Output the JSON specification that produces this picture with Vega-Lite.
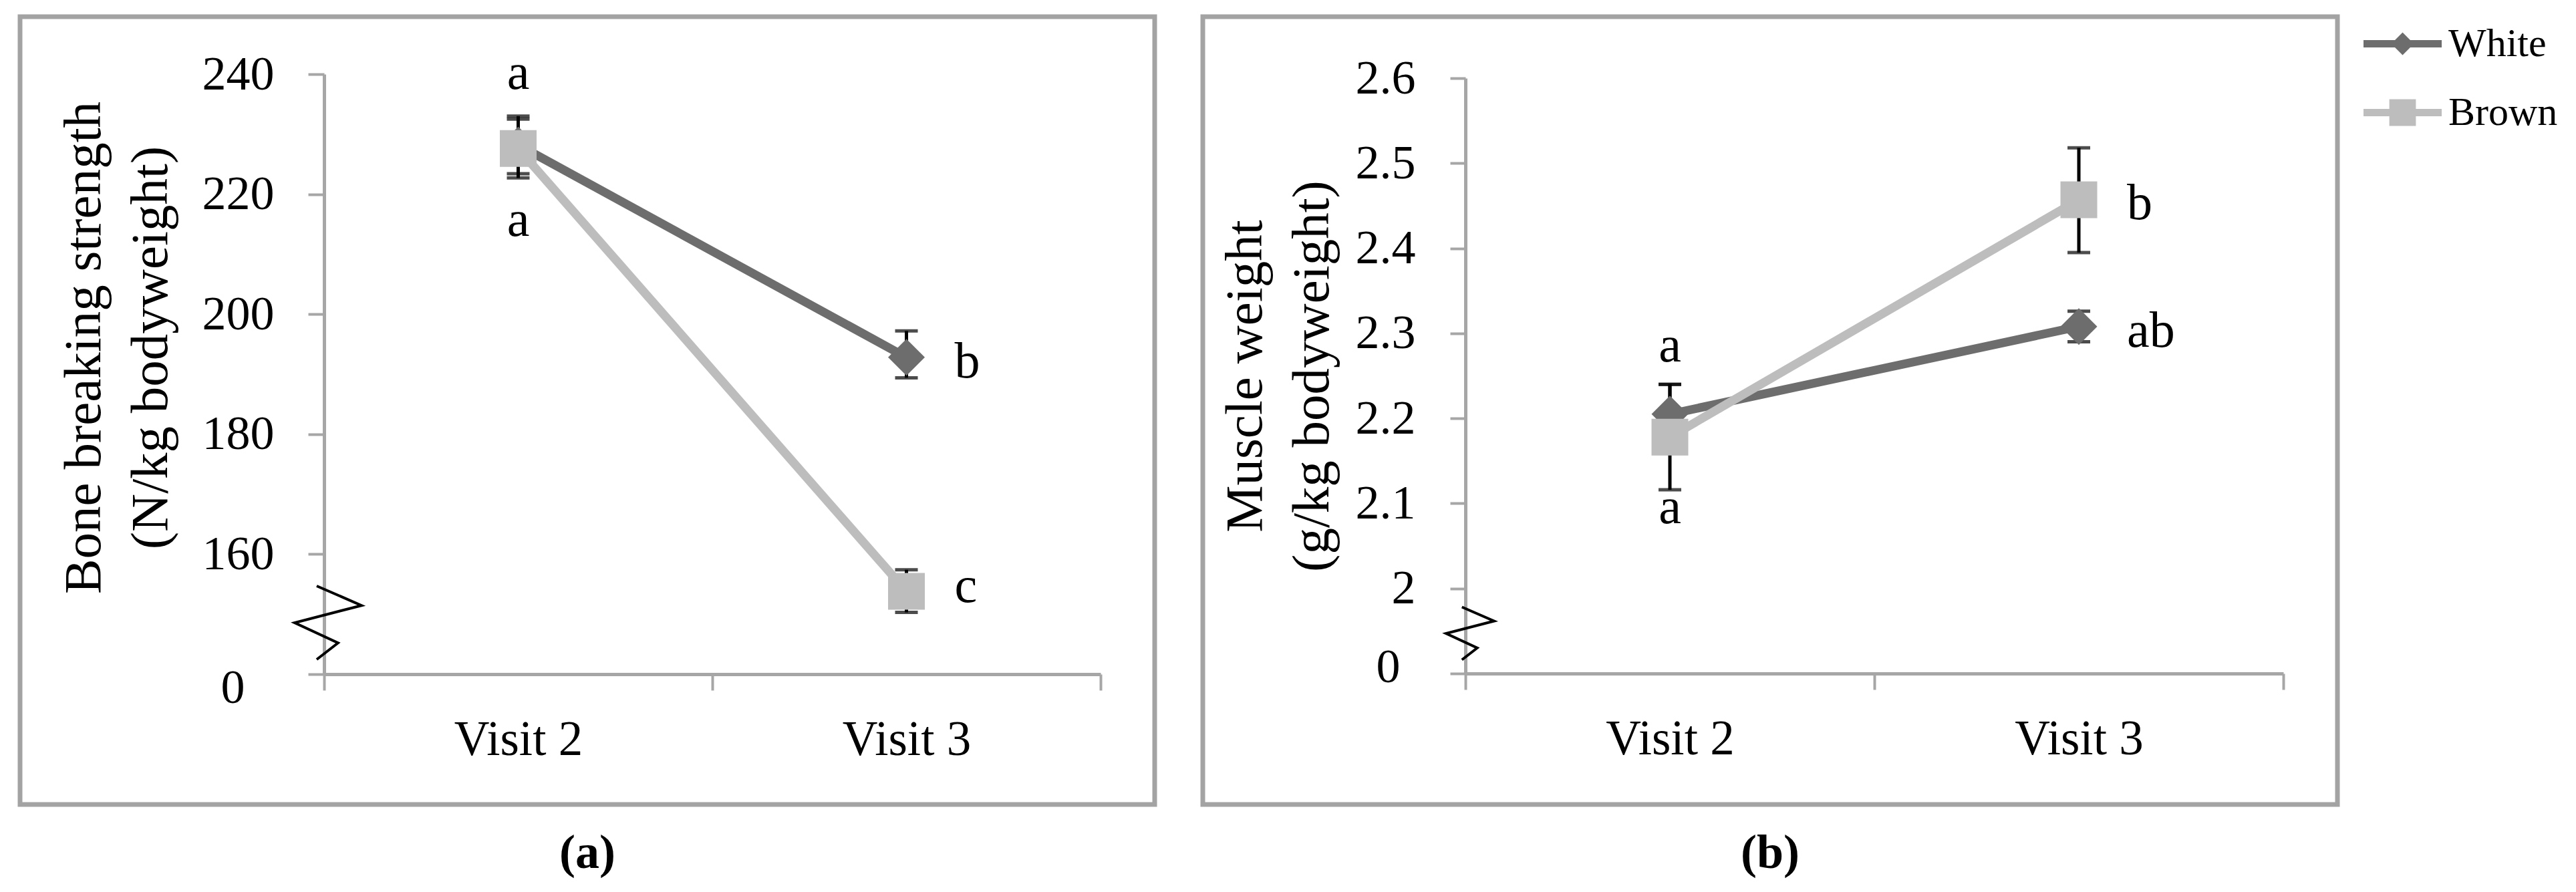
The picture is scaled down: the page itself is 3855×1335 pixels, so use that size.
{
  "$schema": "https://vega.github.io/schema/vega-lite/v6.json",
  "padding": {"left": 26, "top": 7, "right": 5, "bottom": 5},
  "background": "white",
  "config": {
    "view": {"stroke": "#a3a3a3", "strokeWidth": 7},
    "font": "Liberation Serif",
    "text": {"font": "Liberation Serif", "color": "black"}
  },
  "datasets": {
    "pts": [
      {"panel": "a", "series": "White", "visit": "Visit 2", "value": 228.2, "lo": 223.4, "hi": 233.0},
      {"panel": "a", "series": "White", "visit": "Visit 3", "value": 192.8, "lo": 189.4, "hi": 197.2},
      {"panel": "a", "series": "Brown", "visit": "Visit 2", "value": 227.6, "lo": 222.7, "hi": 232.5},
      {"panel": "a", "series": "Brown", "visit": "Visit 3", "value": 153.8, "lo": 150.3, "hi": 157.4},
      {"panel": "b", "series": "White", "visit": "Visit 2", "value": 2.205, "lo": 2.17, "hi": 2.24},
      {"panel": "b", "series": "White", "visit": "Visit 3", "value": 2.308, "lo": 2.29, "hi": 2.326},
      {"panel": "b", "series": "Brown", "visit": "Visit 2", "value": 2.178, "lo": 2.116, "hi": 2.24},
      {"panel": "b", "series": "Brown", "visit": "Visit 3", "value": 2.457, "lo": 2.395, "hi": 2.518}
    ],
    "letters": [
      {"panel": "a", "visit": "Visit 2", "label": "a", "ly": 240.1},
      {"panel": "a", "visit": "Visit 2", "label": "a", "ly": 215.6},
      {"panel": "a", "visit": "Visit 3", "label": "b", "ly": 192.0},
      {"panel": "a", "visit": "Visit 3", "label": "c", "ly": 154.6},
      {"panel": "b", "visit": "Visit 2", "label": "a", "ly": 2.285},
      {"panel": "b", "visit": "Visit 2", "label": "a", "ly": 2.095},
      {"panel": "b", "visit": "Visit 3", "label": "b", "ly": 2.452},
      {"panel": "b", "visit": "Visit 3", "label": "ab", "ly": 2.302}
    ],
    "breaks": [
      {"visit": "Visit 2"}
    ]
  },
  "spacing": 64,
  "resolve": {"scale": {"x": "independent", "y": "independent", "color": "shared", "shape": "shared"}},
  "hconcat": [
    {
      "width": 1698,
      "height": 1179,
      "title": {"text": "(a)", "orient": "bottom", "anchor": "middle", "font": "Liberation Serif", "fontSize": 72, "fontWeight": "bold", "color": "black", "offset": 38},
      "layer": [
        {
          "data": {"name": "pts"},
          "transform": [{"filter": "datum.panel === 'a'"}],
          "mark": {"type": "rule", "color": "black", "strokeWidth": 5},
          "encoding": {
            "x": {"field": "visit", "type": "nominal", "sort": ["Visit 2", "Visit 3"],
              "scale": {"range": [455, 1617], "paddingInner": 0, "paddingOuter": 0},
              "axis": {"orient": "bottom", "offset": -195, "tickBand": "extent", "title": null, "labelAngle": 0, "labelLimit": 600,
                "domainColor": "#a6a6a6", "domainWidth": 5, "tickColor": "#a6a6a6", "tickWidth": 4, "tickSize": 24,
                "labelFont": "Liberation Serif", "labelFontSize": 73, "labelColor": "black", "labelPadding": 38, "grid": false}},
            "y": {"field": "lo", "type": "quantitative",
              "scale": {"domain": [140, 240], "range": [984, 86], "nice": false, "zero": false},
              "axis": {"values": [140, 160, 180, 200, 220, 240], "labelExpr": "datum.value == 140 ? '0' : datum.label",
                "offset": -455, "grid": false,
                "title": ["Bone breaking strength", "(N/kg bodyweight)"], "titleFont": "Liberation Serif", "titleFontSize": 79,
                "titleFontWeight": "normal", "titleLineHeight": 100, "titlePadding": 36, "titleY": 495, "titleColor": "black",
                "labelFont": "Liberation Serif", "labelFontSize": 72, "labelColor": "black",
                "labelPadding": {"condition": {"test": "datum.value == 140", "value": 95}, "value": 51},
                "labelOffset": {"condition": {"test": "datum.value == 140", "value": 20}, "value": 0},
                "tickSize": 24, "tickColor": "#a6a6a6", "tickWidth": 4, "domainColor": "#a6a6a6", "domainWidth": 5}},
            "y2": {"field": "hi"}
          }
        },
        {
          "data": {"name": "pts"},
          "transform": [{"filter": "datum.panel === 'a'"}],
          "mark": {"type": "tick", "color": "black", "orient": "horizontal", "size": 34, "thickness": 5},
          "encoding": {
            "x": {"field": "visit", "type": "nominal"},
            "y": {"field": "lo", "type": "quantitative"}
          }
        },
        {
          "data": {"name": "pts"},
          "transform": [{"filter": "datum.panel === 'a'"}],
          "mark": {"type": "tick", "color": "black", "orient": "horizontal", "size": 34, "thickness": 5},
          "encoding": {
            "x": {"field": "visit", "type": "nominal"},
            "y": {"field": "hi", "type": "quantitative"}
          }
        },
        {
          "data": {"name": "pts"},
          "transform": [{"filter": "datum.panel === 'a'"}],
          "mark": {"type": "line", "strokeWidth": 13},
          "encoding": {
            "x": {"field": "visit", "type": "nominal"},
            "y": {"field": "value", "type": "quantitative"},
            "color": {"field": "series", "type": "nominal", "scale": {"domain": ["White", "Brown"], "range": ["#6d6d6d", "#bdbdbd"]}}
          }
        },
        {
          "data": {"name": "pts"},
          "transform": [{"filter": "datum.panel === 'a' && datum.series === 'White'"}],
          "mark": {"type": "point", "shape": "diamond", "filled": true, "size": 3025, "opacity": 1},
          "encoding": {
            "x": {"field": "visit", "type": "nominal"},
            "y": {"field": "value", "type": "quantitative"},
            "color": {"field": "series", "type": "nominal"}
          }
        },
        {
          "data": {"name": "pts"},
          "transform": [{"filter": "datum.panel === 'a' && datum.series === 'Brown'"}],
          "mark": {"type": "point", "shape": "square", "filled": true, "size": 3025, "opacity": 1},
          "encoding": {
            "x": {"field": "visit", "type": "nominal"},
            "y": {"field": "value", "type": "quantitative"},
            "color": {"field": "series", "type": "nominal"}
          }
        },
        {
          "data": {"name": "letters"},
          "transform": [{"filter": "datum.panel === 'a' && datum.visit === 'Visit 2'"}],
          "mark": {"type": "text", "align": "center", "baseline": "middle", "fontSize": 76, "font": "Liberation Serif", "color": "black"},
          "encoding": {
            "x": {"field": "visit", "type": "nominal"},
            "y": {"field": "ly", "type": "quantitative"},
            "text": {"field": "label"}
          }
        },
        {
          "data": {"name": "letters"},
          "transform": [{"filter": "datum.panel === 'a' && datum.visit === 'Visit 3'"}],
          "mark": {"type": "text", "align": "left", "baseline": "middle", "dx": 72, "fontSize": 76, "font": "Liberation Serif", "color": "black"},
          "encoding": {
            "x": {"field": "visit", "type": "nominal"},
            "y": {"field": "ly", "type": "quantitative"},
            "text": {"field": "label"}
          }
        },
        {
          "data": {"name": "breaks"},
          "mark": {"type": "point", "shape": "M-0.31,-1L0.91,-0.47L-0.91,0L0.27,0.55L-0.31,1", "filled": false, "stroke": "black", "strokeWidth": 4, "size": 12100, "opacity": 1, "xOffset": 6, "yOffset": -77},
          "encoding": {
            "x": {"field": "visit", "type": "nominal", "bandPosition": 0},
            "y": {"datum": 140, "type": "quantitative"}
          }
        }
      ]
    },
    {
      "width": 1698,
      "height": 1179,
      "title": {"text": "(b)", "orient": "bottom", "anchor": "middle", "font": "Liberation Serif", "fontSize": 72, "fontWeight": "bold", "color": "black", "offset": 38},
      "layer": [
        {
          "data": {"name": "pts"},
          "transform": [{"filter": "datum.panel === 'b'"}],
          "mark": {"type": "rule", "color": "black", "strokeWidth": 5},
          "encoding": {
            "x": {"field": "visit", "type": "nominal", "sort": ["Visit 2", "Visit 3"],
              "scale": {"range": [393, 1617], "paddingInner": 0, "paddingOuter": 0},
              "axis": {"orient": "bottom", "offset": -196, "tickBand": "extent", "title": null, "labelAngle": 0, "labelLimit": 600,
                "domainColor": "#a6a6a6", "domainWidth": 5, "tickColor": "#a6a6a6", "tickWidth": 4, "tickSize": 24,
                "labelFont": "Liberation Serif", "labelFontSize": 73, "labelColor": "black", "labelPadding": 38, "grid": false}},
            "y": {"field": "lo", "type": "quantitative",
              "scale": {"domain": [1.9, 2.6], "range": [983, 92], "nice": false, "zero": false},
              "axis": {"values": [1.9, 2.0, 2.1, 2.2, 2.3, 2.4, 2.5, 2.6], "labelExpr": "datum.value < 1.95 ? '0' : format(datum.value, '.1~f')",
                "offset": -393, "grid": false,
                "title": ["Muscle weight", "(g/kg bodyweight)"], "titleFont": "Liberation Serif", "titleFontSize": 79,
                "titleFontWeight": "normal", "titleLineHeight": 100, "titlePadding": 24, "titleColor": "black",
                "labelFont": "Liberation Serif", "labelFontSize": 72, "labelColor": "black",
                "labelPadding": {"condition": {"test": "datum.value < 1.95", "value": 75}, "value": 52},
                "labelOffset": {"condition": {"test": "datum.value < 1.95", "value": -10}, "value": 0},
                "tickSize": 23, "tickColor": "#a6a6a6", "tickWidth": 4, "domainColor": "#a6a6a6", "domainWidth": 5}},
            "y2": {"field": "hi"}
          }
        },
        {
          "data": {"name": "pts"},
          "transform": [{"filter": "datum.panel === 'b'"}],
          "mark": {"type": "tick", "color": "black", "orient": "horizontal", "size": 34, "thickness": 5},
          "encoding": {
            "x": {"field": "visit", "type": "nominal"},
            "y": {"field": "lo", "type": "quantitative"}
          }
        },
        {
          "data": {"name": "pts"},
          "transform": [{"filter": "datum.panel === 'b'"}],
          "mark": {"type": "tick", "color": "black", "orient": "horizontal", "size": 34, "thickness": 5},
          "encoding": {
            "x": {"field": "visit", "type": "nominal"},
            "y": {"field": "hi", "type": "quantitative"}
          }
        },
        {
          "data": {"name": "pts"},
          "transform": [{"filter": "datum.panel === 'b'"}],
          "mark": {"type": "line", "strokeWidth": 13},
          "encoding": {
            "x": {"field": "visit", "type": "nominal"},
            "y": {"field": "value", "type": "quantitative"},
            "color": {"field": "series", "type": "nominal"}
          }
        },
        {
          "data": {"name": "pts"},
          "transform": [{"filter": "datum.panel === 'b' && datum.series === 'White'"}],
          "mark": {"type": "point", "shape": "diamond", "filled": true, "size": 3025, "opacity": 1},
          "encoding": {
            "x": {"field": "visit", "type": "nominal"},
            "y": {"field": "value", "type": "quantitative"},
            "color": {"field": "series", "type": "nominal"}
          }
        },
        {
          "data": {"name": "pts"},
          "transform": [{"filter": "datum.panel === 'b' && datum.series === 'Brown'"}],
          "mark": {"type": "point", "shape": "square", "filled": true, "size": 3025, "opacity": 1},
          "encoding": {
            "x": {"field": "visit", "type": "nominal"},
            "y": {"field": "value", "type": "quantitative"},
            "color": {"field": "series", "type": "nominal"}
          }
        },
        {
          "data": {"name": "pts"},
          "transform": [{"filter": "false"}],
          "mark": {"type": "point", "filled": true, "opacity": 1, "strokeWidth": 0},
          "encoding": {
            "x": {"field": "visit", "type": "nominal"},
            "y": {"field": "value", "type": "quantitative"},
            "color": {"field": "series", "type": "nominal",
              "legend": {"title": null, "orient": "none", "legendX": 3507, "legendY": -18, "symbolSize": 13689, "symbolStrokeWidth": 0,
                "labelFont": "Liberation Serif", "labelFontSize": 60, "labelColor": "black", "labelOffset": 10, "labelLimit": 600, "rowPadding": 14, "padding": 0}},
            "shape": {"field": "series", "type": "nominal",
              "scale": {"domain": ["White", "Brown"], "range": [
                "M-1,-0.094L-0.196,-0.094L0,-0.29L0.196,-0.094L1,-0.094L1,0.094L0.196,0.094L0,0.29L-0.196,0.094L-1,0.094Z",
                "M-1,-0.094L-0.34,-0.094L-0.34,-0.34L0.34,-0.34L0.34,-0.094L1,-0.094L1,0.094L0.34,0.094L0.34,0.34L-0.34,0.34L-0.34,0.094L-1,0.094Z"]},
              "legend": {"title": null, "orient": "none", "legendX": 3507, "legendY": -18, "symbolSize": 13689, "symbolStrokeWidth": 0,
                "labelFont": "Liberation Serif", "labelFontSize": 60, "labelColor": "black", "labelOffset": 10, "labelLimit": 600, "rowPadding": 14, "padding": 0}}
          }
        },
        {
          "data": {"name": "letters"},
          "transform": [{"filter": "datum.panel === 'b' && datum.visit === 'Visit 2'"}],
          "mark": {"type": "text", "align": "center", "baseline": "middle", "fontSize": 76, "font": "Liberation Serif", "color": "black"},
          "encoding": {
            "x": {"field": "visit", "type": "nominal"},
            "y": {"field": "ly", "type": "quantitative"},
            "text": {"field": "label"}
          }
        },
        {
          "data": {"name": "letters"},
          "transform": [{"filter": "datum.panel === 'b' && datum.visit === 'Visit 3'"}],
          "mark": {"type": "text", "align": "left", "baseline": "middle", "dx": 72, "fontSize": 76, "font": "Liberation Serif", "color": "black"},
          "encoding": {
            "x": {"field": "visit", "type": "nominal"},
            "y": {"field": "ly", "type": "quantitative"},
            "text": {"field": "label"}
          }
        },
        {
          "data": {"name": "breaks"},
          "mark": {"type": "point", "shape": "M-0.31,-1L0.91,-0.47L-0.91,0L0.27,0.55L-0.31,1", "filled": false, "stroke": "black", "strokeWidth": 4, "size": 6241, "opacity": 1, "xOffset": 7, "yOffset": -60},
          "encoding": {
            "x": {"field": "visit", "type": "nominal", "bandPosition": 0},
            "y": {"datum": 1.9, "type": "quantitative"}
          }
        }
      ]
    }
  ]
}
